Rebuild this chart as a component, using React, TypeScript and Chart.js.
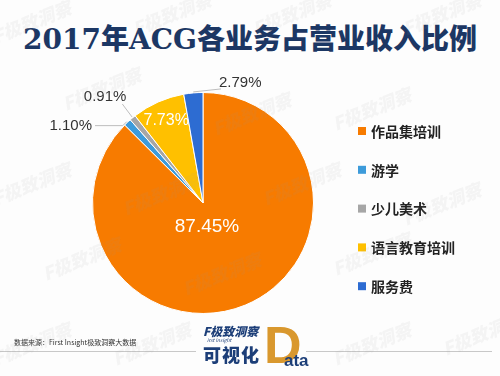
import React, { useEffect, useRef } from "react";
import { Chart, registerables } from "chart.js";

Chart.register(...registerables);

const categories = ["作品集培训", "游学", "少儿美术", "语言教育培训", "服务费"];
const shares = [87.45, 1.1, 0.91, 7.73, 2.79];
const shareLabels = ["87.45%", "1.10%", "0.91%", "7.73%", "2.79%"];
const colors = ["#F77B00", "#3D9BDA", "#A6A6A6", "#FFC000", "#2D6CD2"];

const TITLE = "2017年ACG各业务占营业收入比例";
const SOURCE = "数据来源：First Insight极致洞察大数据";

// label placement styles (per slice): inside or outside with offsets
const labelStyle: any[] = [
  { inside: true, dx: 4, dy: 24, size: 19 },
  { inside: false, dx: -56, dy: 4, size: 15, line: "h" },
  { inside: false, dx: -27, dy: -20, size: 15, line: "d" },
  { inside: true, frac: 0.82, size: 16 },
  { inside: false, dx: 47, dy: -9, size: 15, line: "r" },
];

const labelPlugin = {
  id: "sliceLabels",
  afterDatasetsDraw(chart: any) {
    const ctx = chart.ctx;
    const meta = chart.getDatasetMeta(0);
    meta.data.forEach((arc: any, i: number) => {
      const st = labelStyle[i];
      const mid = (arc.startAngle + arc.endAngle) / 2;
      const cx = arc.x, cy = arc.y, r = arc.outerRadius;
      const text = shareLabels[i];
      ctx.save();
      ctx.font = `${st.size}px "Liberation Sans", Arial, sans-serif`;
      ctx.textAlign = "center";
      ctx.textBaseline = "middle";
      if (st.inside) {
        let x, y;
        if (st.frac) {
          x = cx + Math.cos(mid) * r * st.frac;
          y = cy + Math.sin(mid) * r * st.frac;
        } else {
          x = cx + st.dx;
          y = cy + st.dy;
        }
        ctx.fillStyle = "#FFFFFF";
        ctx.fillText(text, x, y);
      } else {
        const ex = cx + Math.cos(mid) * (r + 1);
        const ey = cy + Math.sin(mid) * (r + 1);
        const lx = ex + st.dx;
        const ly = ey + st.dy;
        const w = ctx.measureText(text).width;
        ctx.strokeStyle = "#BDBDBD";
        ctx.lineWidth = 1;
        ctx.beginPath();
        if (st.line === "h") {
          ctx.moveTo(ex, ey);
          ctx.lineTo(ex - 4, ly);
          ctx.lineTo(lx + w / 2 + 3, ly);
        } else if (st.line === "d") {
          ctx.moveTo(ex, ey);
          ctx.lineTo(lx + w / 2 - 4, ly + 7);
        } else {
          ctx.moveTo(ex, ey);
          ctx.lineTo(lx - w / 2 + 2, ly + 6);
        }
        ctx.stroke();
        ctx.fillStyle = "#333333";
        ctx.fillText(text, lx, ly);
      }
      ctx.restore();
    });
  },
};

const legendPlugin = {
  id: "sideLegend",
  afterDraw(chart: any) {
    const ctx = chart.ctx;
    const x0 = 358;
    const y0 = 131;
    const step = 38.8;
    ctx.save();
    ctx.font = `bold 14px "Noto Sans CJK SC", sans-serif`;
    ctx.textBaseline = "middle";
    ctx.textAlign = "left";
    chart.data.labels.forEach((lab: string, i: number) => {
      const y = y0 + i * step;
      ctx.fillStyle = chart.data.datasets[0].backgroundColor[i];
      ctx.fillRect(x0, y - 4, 8, 8);
      ctx.fillStyle = "#222222";
      ctx.fillText(lab, x0 + 13, y + 0.5);
    });
    ctx.restore();
  },
};

const marks = [
  [-10, 8], [130, 0], [250, 0], [400, 0],
  [60, 75], [210, 100], [330, 95],
  [-10, 170], [120, 180], [260, 170], [400, 190],
  [40, 245], [180, 260], [330, 240],
  [-10, 330], [110, 330], [330, 330], [440, 320],
];

export default function App() {
  const ref = useRef<HTMLCanvasElement | null>(null);
  useEffect(() => {
    document.body.style.margin = "0";
    const chart = new Chart(ref.current as HTMLCanvasElement, {
      type: "pie",
      data: {
        labels: categories,
        datasets: [
          {
            data: shares,
            backgroundColor: colors,
            borderColor: "#FFFFFF",
            borderWidth: 1,
          },
        ],
      },
      options: {
        animation: false,
        responsive: false,
        rotation: 0,
        layout: { padding: { left: 92, right: 186, top: 92, bottom: 62 } },
        plugins: {
          legend: { display: false },
          tooltip: { enabled: false },
          title: { display: false },
        },
      },
      plugins: [labelPlugin, legendPlugin],
    });
    return () => chart.destroy();
  }, []);

  return (
    <div
      style={{
        position: "fixed",
        left: 0,
        top: 0,
        width: 500,
        height: 376,
        background: "#FDFDFD",
        overflow: "hidden",
        fontFamily: '"Noto Sans CJK SC", sans-serif',
      }}
    >
      <div
        style={{
          position: "absolute",
          left: 0,
          top: 21,
          width: 500,
          textAlign: "center",
          fontFamily: '"DejaVu Serif", "Liberation Serif", "Noto Sans CJK SC", serif',
          fontWeight: 900,
          fontSize: 28,
          lineHeight: "38px",
          color: "#1C3764",
          letterSpacing: 0,
        }}
      >
        {TITLE}
      </div>
      <canvas ref={ref} width={500} height={376} style={{ position: "absolute", left: 0, top: 0 }} />
      <div
        style={{
          position: "absolute",
          left: 14,
          top: 337,
          fontSize: 7,
          lineHeight: "10px",
          color: "#333",
          whiteSpace: "nowrap",
        }}
      >
        {SOURCE}
      </div>
      <div style={{ position: "absolute", left: 0, top: 351, width: 196, height: 1, background: "#C8C8C8" }} />
      <div style={{ position: "absolute", left: 306, top: 351, width: 186, height: 1, background: "#C8C8C8" }} />
      {/* logo */}
      <div
        style={{
          position: "absolute",
          left: 203,
          top: 324,
          fontSize: 12,
          lineHeight: "14px",
          fontWeight: 900,
          fontStyle: "italic",
          color: "#1C3E78",
          whiteSpace: "nowrap",
        }}
      >
        F极致洞察
      </div>
      <div
        style={{
          position: "absolute",
          left: 207,
          top: 337,
          fontSize: 5,
          lineHeight: "6px",
          fontStyle: "italic",
          color: "#1C3E78",
          whiteSpace: "nowrap",
        }}
      >
        irst Insight
      </div>
      <div
        style={{
          position: "absolute",
          left: 203,
          top: 342,
          fontSize: 18,
          lineHeight: "24px",
          fontWeight: 900,
          color: "#1C3E78",
          whiteSpace: "nowrap",
          letterSpacing: 1,
        }}
      >
        可视化
      </div>
      <div
        style={{
          position: "absolute",
          left: 264,
          top: 316,
          fontSize: 52,
          lineHeight: "58px",
          fontWeight: 900,
          fontFamily: '"Liberation Sans", Arial, sans-serif',
          color: "#D9982E",
        }}
      >
        D
      </div>
      <div
        style={{
          position: "absolute",
          left: 284,
          top: 352,
          fontSize: 17,
          lineHeight: "18px",
          fontWeight: 700,
          fontFamily: '"Liberation Sans", Arial, sans-serif',
          color: "#1C3E78",
        }}
      >
        ata
      </div>
      {marks.map(([x, y], i) => (
        <div
          key={i}
          aria-hidden="true"
          style={{
            position: "absolute",
            left: x,
            top: y,
            fontSize: 18,
            fontWeight: 900,
            fontStyle: "italic",
            color: "rgba(150,150,150,0.09)",
            transform: "rotate(-22deg)",
            whiteSpace: "nowrap",
            pointerEvents: "none",
          }}
        >
          F极致洞察
        </div>
      ))}
    </div>
  );
}
